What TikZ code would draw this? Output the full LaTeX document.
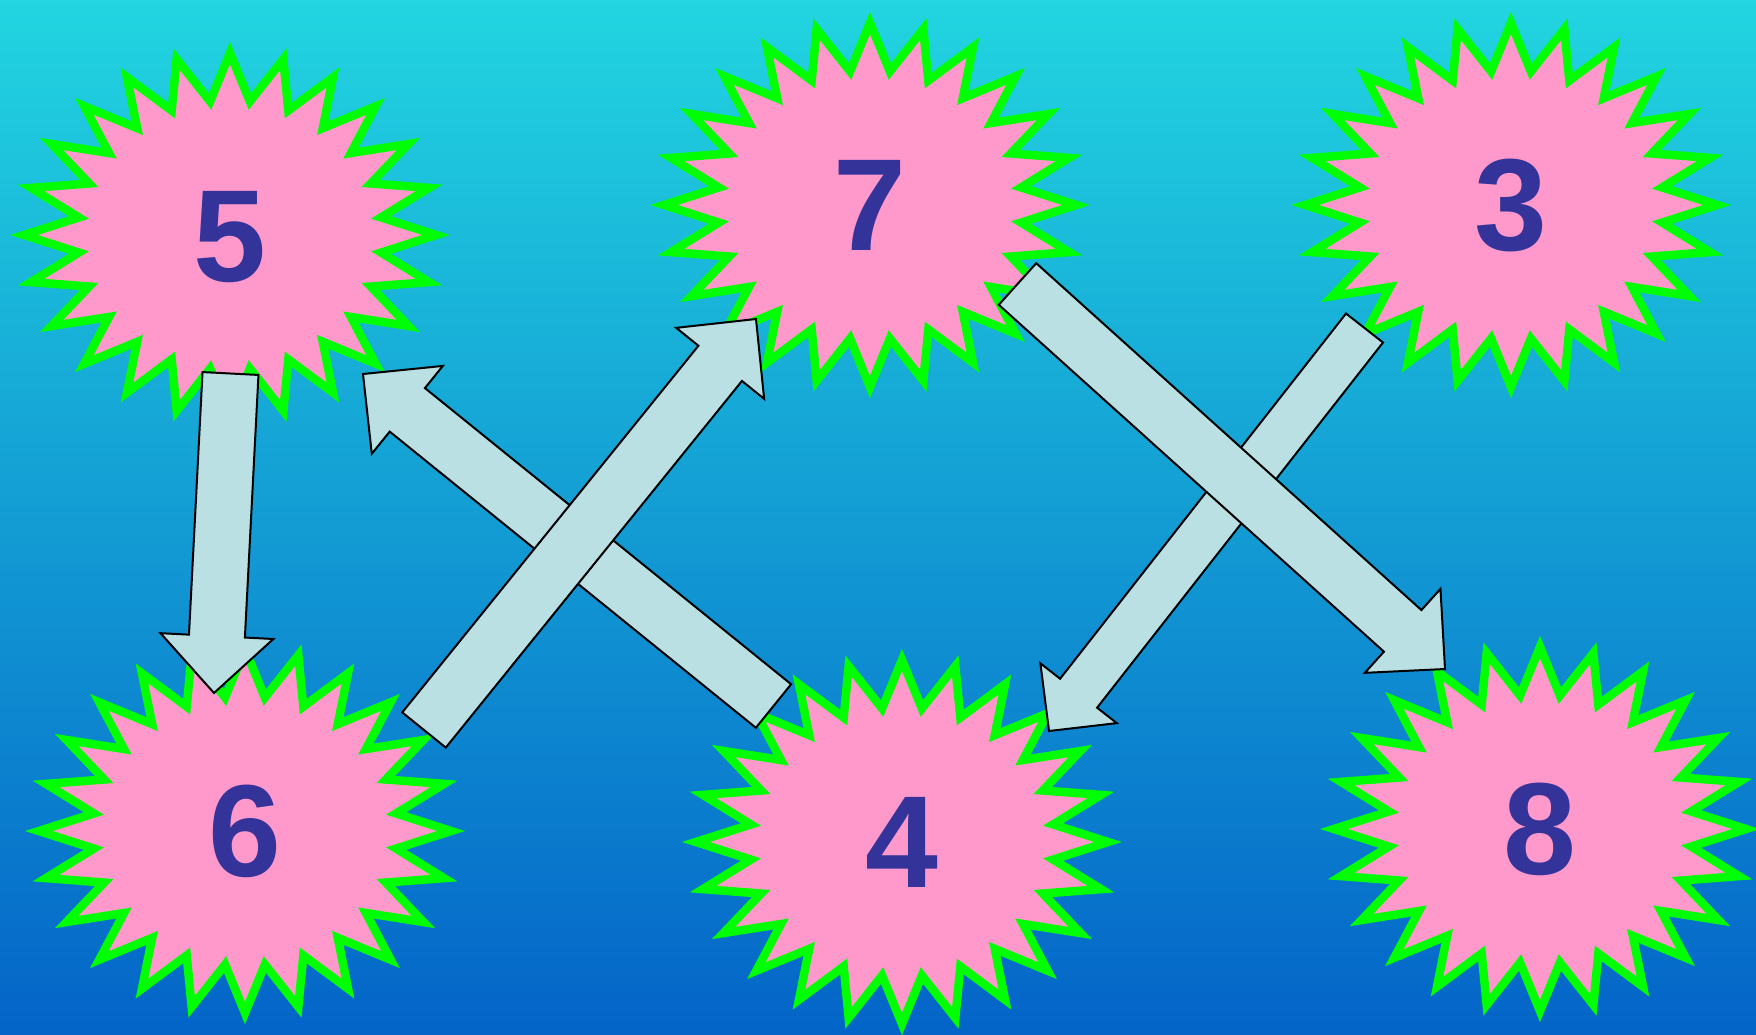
\documentclass[tikz,border=0pt]{standalone}
\usepackage{fontspec}
\newfontfamily\numfont{Liberation Sans}
\usetikzlibrary{calc}
\definecolor{bgtop}{RGB}{34,213,224}
\definecolor{bgmid}{RGB}{16,164,222}
\definecolor{bgbot}{RGB}{4,100,200}
\definecolor{starpink}{RGB}{255,153,204}
\definecolor{stargreen}{RGB}{0,255,0}
\definecolor{numblue}{RGB}{51,51,153}
\definecolor{arrowfill}{RGB}{187,224,227}
\tikzset{
  starburst/.style={draw=stargreen, fill=starpink, line width=8.5pt, line join=miter, miter limit=10},
  numlabel/.style={text=numblue, font=\numfont\bfseries\fontsize{131}{131}\selectfont, inner sep=0pt},
  blockarrow/.style={draw=black, fill=arrowfill, line width=2pt, line join=miter},
}
\newcommand\mystarburst[2]{%
  \draw[starburst, shift={(#1,#2)}] (90:206 and 182)
    \foreach \k in {0,...,22}{ -- ({97.5+15*\k}:{0.74*206} and {0.74*182}) -- ({105+15*\k}:206 and 182) }
    -- (442.5:{0.74*206} and {0.74*182}) -- cycle;
}
% #1 tail, #2 tip, #3 half shaft width, #4 half head width, #5 head length
\newcommand\myblockarrow[5]{%
  \coordinate (ba-s) at ($(#2)!#5!(#1)$);
  \draw[blockarrow] ($(#1)!#3!90:(#2)$) -- ($(ba-s)!#3!90:(#2)$) -- ($(ba-s)!#4!90:(#2)$)
    -- (#2) -- ($(ba-s)!#4!-90:(#2)$) -- ($(ba-s)!#3!-90:(#2)$) -- ($(#1)!#3!-90:(#2)$) -- cycle;
}
\begin{document}
\begin{tikzpicture}[x=1pt, y=-1pt]
  \useasboundingbox (0,0) rectangle (1756,1034);
  \shade[top color=bgtop, middle color=bgmid, bottom color=bgbot] (0,0) rectangle (1756,1034);

  % stars
  \mystarburst{230}{235}
  \mystarburst{870}{205}
  \mystarburst{1511}{205}
  \mystarburst{245}{831}
  \mystarburst{902}{842}
  \mystarburst{1540}{829}

  \node[numlabel] (n5) at (230,237) {5};
  \node[numlabel] (n7) at (870,205) {7};
  \node[numlabel] (n3) at (1511,205) {3};
  \node[numlabel] (n6) at (245,831) {6};
  \node[numlabel] (n4) at (902,842) {4};
  \node[numlabel] (n8) at (1540,829) {8};

  % arrow end points
  \coordinate (a56t) at (230.5,373.5);
  \coordinate (a56h) at (214,693);
  \coordinate (a45t) at (773.5,706);
  \coordinate (a45h) at (363,374);
  \coordinate (a67t) at (424,730);
  \coordinate (a67h) at (756,319);
  \coordinate (a34t) at (1364.5,328);
  \coordinate (a34h) at (1049,731);
  \coordinate (a78t) at (1017.5,284);
  \coordinate (a78h) at (1445,669);

  \myblockarrow{a56t}{a56h}{28pt}{56.5pt}{57pt}
  \myblockarrow{a45t}{a45h}{28pt}{56.5pt}{57pt}
  \myblockarrow{a67t}{a67h}{28pt}{56.5pt}{57pt}
  \myblockarrow{a34t}{a34h}{23.5pt}{48.5pt}{48pt}
  \myblockarrow{a78t}{a78h}{28pt}{56.5pt}{57pt}
\end{tikzpicture}
\end{document}
